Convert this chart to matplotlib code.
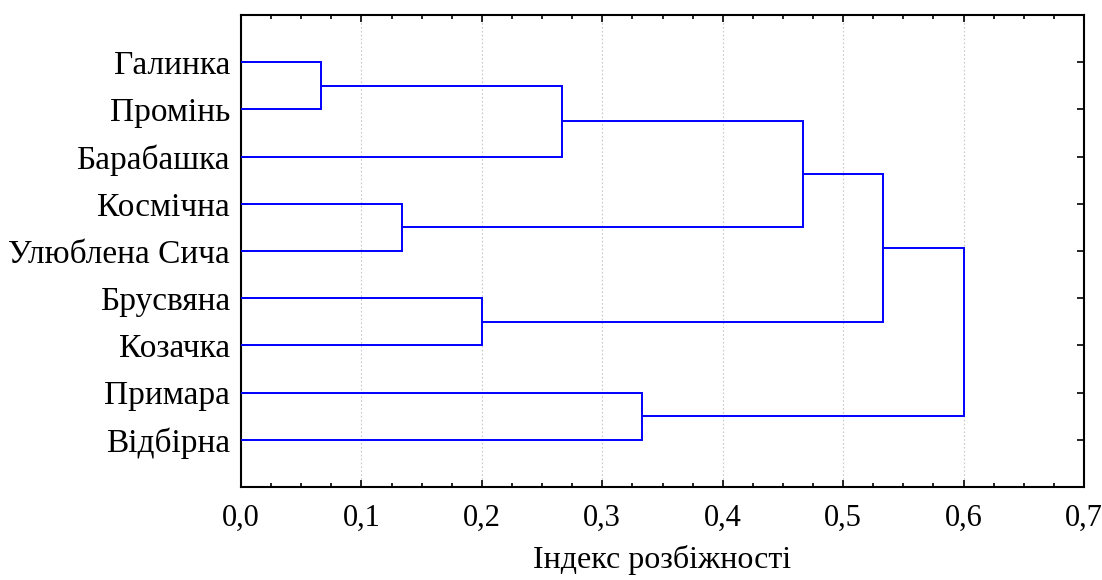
import matplotlib
matplotlib.use("Agg")
import matplotlib.pyplot as plt
from matplotlib.ticker import MultipleLocator, FuncFormatter

# Leaves in top-to-bottom order
leaves = ["Галинка", "Промінь", "Барабашка", "Космічна", "Улюблена Сича",
          "Брусвяна", "Козачка", "Примара", "Відбірна"]

# Merges: (child a, child b, linkage distance); new nodes numbered from len(leaves)
merge_a = [0, 9, 3, 10, 5, 12, 7, 14]
merge_b = [1, 2, 4, 11, 6, 13, 8, 15]
heights = [0.0667, 0.2667, 0.1333, 0.4667, 0.2, 0.5333, 0.3333, 0.6]

x_ticks = [0.0, 0.1, 0.2, 0.3, 0.4, 0.5, 0.6, 0.7]
x_label = "Індекс розбіжності"

plt.rcParams["font.family"] = ["Liberation Serif", "DejaVu Serif"]

fig = plt.figure(figsize=(11.02, 5.80), dpi=100)
ax = fig.add_axes([0.2187, 0.1603, 0.9837 - 0.2187, 0.9741 - 0.1603])

# node positions: x = height, y = vertical position
pos_x = [0.0] * len(leaves)
pos_y = [i + 1 for i in range(len(leaves))]

for a, b, h in zip(merge_a, merge_b, heights):
    xa, ya = pos_x[a], pos_y[a]
    xb, yb = pos_x[b], pos_y[b]
    ax.plot([xa, h, h, xb], [ya, ya, yb, yb], color="#0000ff", lw=1.4,
            solid_joinstyle="miter", zorder=3)
    pos_x.append(h)
    pos_y.append((ya + yb) / 2)

ax.set_xlim(0, 0.7)
ax.set_ylim(len(leaves) + 1, 0)

ax.set_xticks(x_ticks)
ax.xaxis.set_minor_locator(MultipleLocator(0.025))
ax.xaxis.set_major_formatter(FuncFormatter(lambda v, p: f"{v:.1f}".replace(".", ",")))
ax.set_yticks(range(1, len(leaves) + 1))
ax.set_yticklabels(leaves)

ax.tick_params(axis="both", which="both", direction="in", top=True, right=True,
               width=1.2)
ax.tick_params(axis="x", which="major", length=5, pad=12, labelsize=22)
ax.tick_params(axis="x", which="minor", length=3)
ax.tick_params(axis="y", which="major", length=5, pad=8, labelsize=24)

ax.grid(axis="x", which="major", color="#c8c8c8", linestyle=(0, (1.5, 2)), lw=0.8)
for s in ax.spines.values():
    s.set_linewidth(1.5)

ax.set_xlabel(x_label, fontsize=23, labelpad=9)

fig.savefig("out.png", dpi=100)
